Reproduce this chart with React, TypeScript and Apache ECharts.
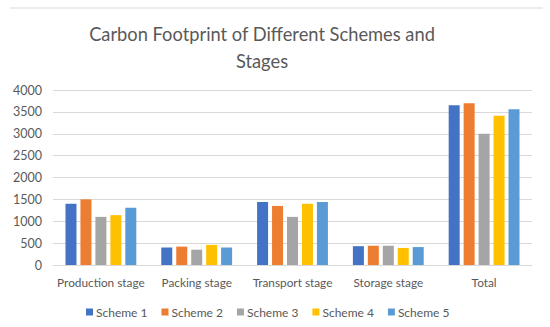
import React, { useEffect, useRef } from "react";
import * as echarts from "echarts";

const categories = ["Production stage", "Packing stage", "Transport stage", "Storage stage", "Total"];
const scheme1 = [1400, 400, 1440, 430, 3650];
const scheme2 = [1500, 420, 1350, 440, 3700];
const scheme3 = [1100, 350, 1100, 440, 3000];
const scheme4 = [1140, 460, 1400, 390, 3410];
const scheme5 = [1310, 400, 1440, 410, 3560];
const seriesNames = ["Scheme 1", "Scheme 2", "Scheme 3", "Scheme 4", "Scheme 5"];
const colors = ["#4472C4", "#ED7D31", "#A5A5A5", "#FFC000", "#5B9BD5"];
const titleLines = ["Carbon Footprint of Different Schemes and", "Stages"];

const FONT = "Lato, 'Open Sans', sans-serif";

export default function App() {
  const ref = useRef<HTMLDivElement>(null);
  useEffect(() => {
    if (!ref.current) return;
    const chart = echarts.init(ref.current, null, { renderer: "svg" });
    const data = [scheme1, scheme2, scheme3, scheme4, scheme5];
    chart.setOption({
      animation: false,
      backgroundColor: "#ffffff",
      color: colors,
      graphic: [
        {
          type: "line",
          shape: { x1: 10, y1: 8, x2: 543, y2: 8 },
          style: { stroke: "#d9d9d9", lineWidth: 1 },
        },
        {
          type: "text",
          x: 262,
          y: 34,
          style: {
            text: titleLines[0],
            fill: "#595959",
            font: "normal 18.3px " + FONT,
            textAlign: "center",
            textVerticalAlign: "middle",
          },
        },
        {
          type: "text",
          x: 262,
          y: 61,
          style: {
            text: titleLines[1],
            fill: "#595959",
            font: "normal 18.3px " + FONT,
            textAlign: "center",
            textVerticalAlign: "middle",
          },
        },
      ],
      legend: {
        bottom: 4,
        left: 81,
        itemWidth: 7,
        itemHeight: 7,
        itemGap: 14,
        icon: "rect",
        textStyle: { fontFamily: FONT, fontSize: 12, color: "#595959", padding: [0, 0, 0, -2] },
        data: seriesNames,
      },
      grid: { left: 53, right: 18, top: 90, bottom: 62 },
      xAxis: {
        type: "category",
        data: categories,
        axisLine: { lineStyle: { color: "#d9d9d9" } },
        axisTick: { show: false },
        axisLabel: { fontFamily: FONT, fontSize: 11.8, color: "#595959", margin: 11, interval: 0 },
      },
      yAxis: {
        type: "value",
        min: 0,
        max: 4000,
        interval: 500,
        axisLine: { show: false },
        axisTick: { show: false },
        axisLabel: {
          fontFamily: FONT,
          fontSize: 12.5,
          color: "#595959",
          margin: 11,
          formatter: (v: number) => String(v),
        },
        splitLine: { lineStyle: { color: "#d9d9d9", width: 1 } },
      },
      series: seriesNames.map((name, i) => ({
        name,
        type: "bar",
        data: data[i],
        barWidth: 11,
        barGap: "36%",
        itemStyle: { color: colors[i] },
      })),
    });
    return () => chart.dispose();
  }, []);
  return (
    <div
      ref={ref}
      style={{ position: "fixed", left: 0, top: 0, width: 550, height: 327 }}
    />
  );
}
